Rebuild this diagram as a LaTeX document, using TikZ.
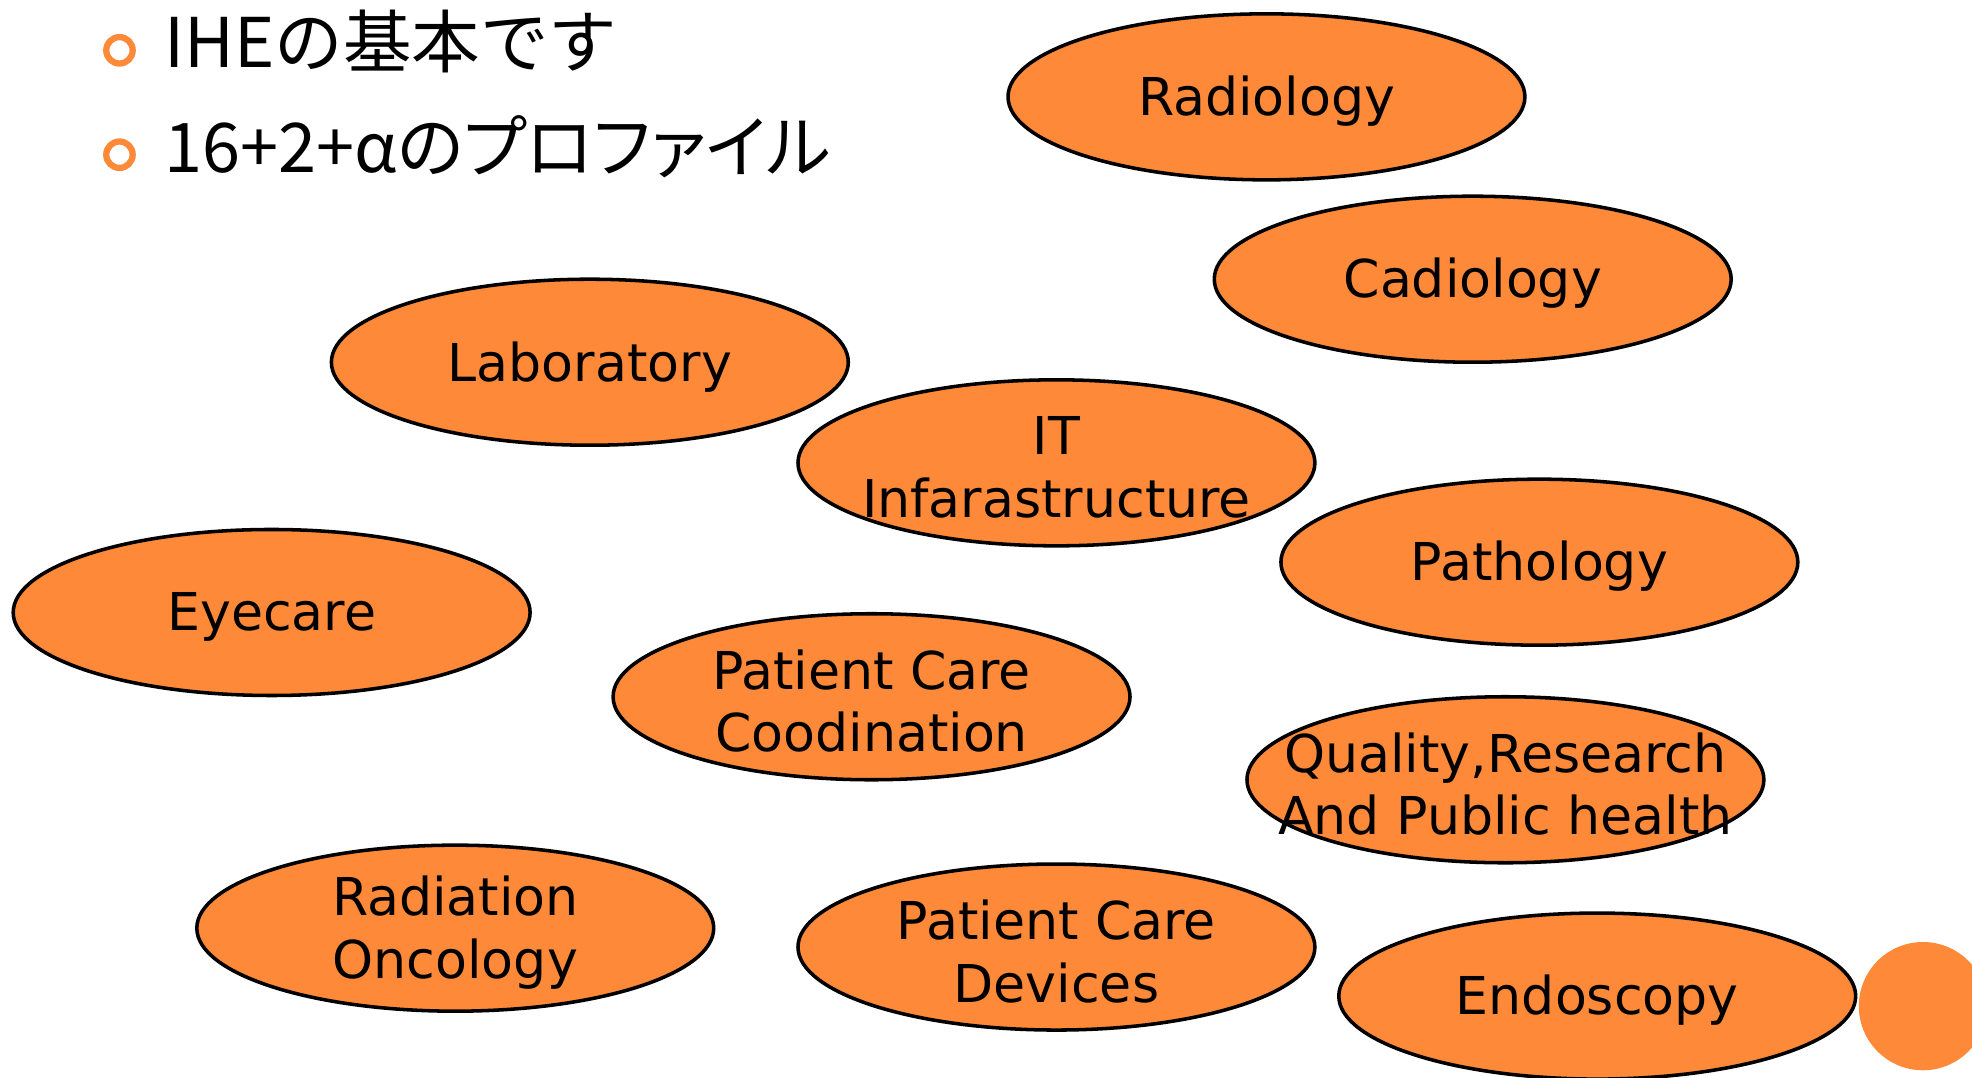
\documentclass[tikz,border=0pt]{standalone}
\usepackage{fontspec}
\setmainfont{DejaVu Sans}
\newfontfamily\jpfont{Noto Sans CJK JP}
\usetikzlibrary{shapes.geometric}
\definecolor{ihe}{RGB}{253,137,57}

\begin{document}
\begin{tikzpicture}[dept/.style={ellipse,draw=black,line width=0.8pt,fill=ihe,
                      minimum width=4.11cm,minimum height=1.32cm,inner sep=0pt},
                    lbl/.style={align=center,inner sep=0pt,yshift=-0.035cm,font=\fontsize{11.8}{14.2}\selectfont},
                    ring/.style={circle,draw=ihe,line width=0.05cm,minimum size=0.21cm,inner sep=0pt},
                    head/.style={anchor=base west,inner sep=0pt,font=\jpfont\fontsize{15.5}{18}\selectfont}]
\useasboundingbox (0,0) rectangle (15.68,-8.57);

% bullets
\node[ring] (b-1) at (0.95,-0.40) {};
\node[ring] (b-2) at (0.95,-1.23) {};
\node[head] (h-1) at (1.30,-0.54) {IHEの基本です};
\node[head] (h-2) at (1.30,-1.37) {\addfontfeature{RawFeature=+palt}16+2+αのプロファイル};

% domains
\node[dept] (rad)  at (10.07,-0.77) {};
\node[dept] (cad)  at (11.71,-2.22) {};
\node[dept] (lab)  at ( 4.69,-2.88) {};
\node[dept] (it)   at ( 8.40,-3.68) {};
\node[dept] (path) at (12.24,-4.47) {};
\node[dept] (eye)  at ( 2.16,-4.87) {};
\node[dept] (pcc)  at ( 6.93,-5.54) {};
\node[dept] (qrph) at (11.97,-6.20) {};
\node[dept] (ro)   at ( 3.62,-7.38) {};
\node[dept] (pcd)  at ( 8.40,-7.53) {};
\node[dept] (endo) at (12.70,-7.92) {};
\fill[ihe] (15.29,-8.00) coordinate (dot) circle (0.51);

\node[lbl] (rad-t)  at (rad)  {Radiology};
\node[lbl] (cad-t)  at (cad)  {Cadiology};
\node[lbl] (lab-t)  at (lab)  {Laboratory};
\node[lbl] (it-t)   at (it)   {IT\\Infarastructure};
\node[lbl] (path-t) at (path) {Pathology};
\node[lbl] (eye-t)  at (eye)  {Eyecare};
\node[lbl] (pcc-t)  at (pcc)  {Patient Care\\Coodination};
\node[lbl] (qrph-t) at (qrph) {Quality,Research\\And Public health};
\node[lbl] (ro-t)   at (ro)   {Radiation\\Oncology};
\node[lbl] (pcd-t)  at (pcd)  {Patient Care\\Devices};
\node[lbl] (endo-t) at (endo) {Endoscopy};
\end{tikzpicture}
\end{document}
